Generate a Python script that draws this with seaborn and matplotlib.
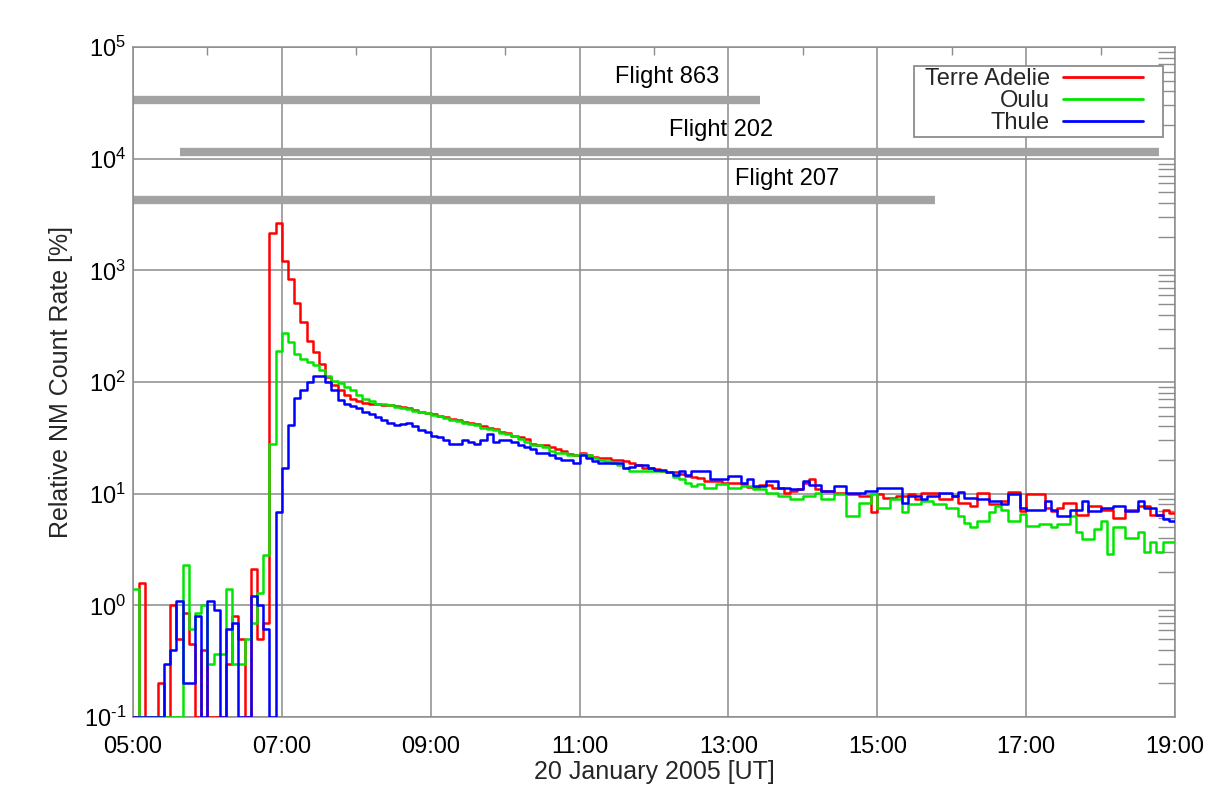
import numpy as np
import pandas as pd
import matplotlib
matplotlib.use("Agg")
import matplotlib.pyplot as plt
from matplotlib.lines import Line2D
from matplotlib.patches import Rectangle
from matplotlib.transforms import IdentityTransform
import matplotlib.ticker as mticker
import seaborn as sns

# ---------------- data ----------------
stations = ["Terre Adelie", "Oulu", "Thule"]
station_colors = ["#ff0000", "#00e600", "#0000ff"]

start_hour = 5.0          # 05:00 UT
bin_minutes = 5           # 5-minute bins

terre_adelie = [
    0.1, 1.6, 0.1, 0.1, 0.2, 0.1, 1.0, 0.5, 0.85, 0.45, 0.1, 0.4,
    0.1, 0.1, 0.1, 0.3, 0.8, 0.5, 0.1, 2.1, 0.5, 0.7, 2160, 2650,
    1210, 830, 515, 342, 235, 185, 146, 110, 94, 84, 76, 71,
    67, 65, 64, 63, 62, 62, 61, 60, 58, 56, 54, 53,
    52, 50, 49, 47, 46, 44, 43, 42, 40, 39, 38, 36,
    35, 33, 32, 31, 28, 27, 27, 26, 25, 24, 22.5, 22,
    23, 22, 21.5, 21, 21, 20, 20, 19.5, 19, 18, 17, 17,
    16.5, 16, 15.5, 15.5, 15, 14.3, 14, 13.9, 13, 13, 13, 12.5,
    12.5, 12.5, 12.1, 11.5, 11.3, 12, 12, 11.3, 11.3, 10.2, 10.5, 11,
    12.5, 13.4, 11, 10.6, 10.6, 10.2, 10.2, 9.9, 9.9, 9.5, 9.5, 6.8,
    9.9, 9.2, 9.2, 9.5, 9.5, 9.9, 8.9, 10.2, 10.2, 10.2, 8.9, 8.9,
    9.5, 8.3, 8.3, 7.8, 10.2, 10.2, 8.0, 8.0, 8.6, 10.4, 10.4, 7.0,
    9.9, 9.9, 9.9, 7.5, 7.0, 7.5, 8.3, 8.3, 6.5, 6.5, 7.8, 7.8,
    7.2, 7.2, 6.1, 6.1, 7.2, 7.2, 7.8, 7.8, 6.5, 6.5, 7.2, 6.7,
]
oulu = [
    1.4, 0.1, 0.1, 0.1, 0.1, 0.1, 0.1, 0.1, 2.3, 0.62, 0.85, 1.0,
    0.3, 0.37, 0.37, 1.4, 0.3, 0.3, 0.5, 0.7, 1.3, 2.8, 28, 190,
    273, 228, 178, 161, 150, 141, 127, 114, 103, 97, 91, 84,
    76, 71, 67, 64, 63, 62, 60, 59, 57, 55, 54, 53,
    51, 50, 48, 46, 45, 43, 42, 41, 39, 38, 37, 35,
    34, 33, 31, 29, 27, 27, 26, 24, 23, 23, 22, 22,
    22.5, 22, 21, 20, 19.5, 19, 18, 17, 16, 16, 16, 16,
    16, 16, 15.5, 14, 13.5, 12.5, 11.6, 12.1, 11.3, 11.3, 12.1, 12.1,
    11.3, 11.3, 11.7, 11.7, 11.0, 11.0, 10.2, 10.2, 9.5, 9.5, 8.9, 8.9,
    9.5, 9.5, 10.2, 8.9, 8.9, 9.9, 9.9, 6.3, 6.3, 8.3, 8.3, 9.9,
    7.5, 7.5, 8.9, 8.9, 6.8, 8.0, 8.0, 8.6, 8.6, 8.0, 8.0, 7.5,
    7.5, 6.3, 5.5, 5.0, 5.7, 5.7, 6.8, 7.8, 7.2, 5.7, 5.7, 6.6,
    5.1, 5.1, 5.3, 5.3, 5.0, 5.3, 5.3, 6.3, 4.5, 3.9, 3.9, 4.8,
    5.7, 2.9, 5.0, 5.0, 4.0, 4.0, 4.5, 3.0, 3.7, 3.0, 3.7, 3.7,
]
thule = [
    0.1, 0.1, 0.1, 0.1, 0.1, 0.3, 0.4, 1.1, 0.2, 0.2, 0.81, 0.1,
    1.1, 0.91, 0.1, 0.62, 0.7, 0.1, 0.1, 1.2, 1.0, 0.62, 0.1, 6.9,
    17, 41, 72, 84, 100, 113, 113, 100, 85, 69, 64, 61,
    58, 54, 52, 49, 46, 43, 41, 42, 43, 40, 37, 36,
    33, 32, 30, 28, 28, 30, 29, 28, 30, 34, 29, 30,
    30, 29, 27, 26, 25, 23, 23, 22, 21, 20, 20, 19,
    22, 21, 19.5, 19, 19, 19, 19, 17, 17.5, 18, 18, 17,
    16.4, 16.4, 15.5, 14.8, 15.8, 14.8, 16, 16, 16, 13.4, 13.4, 13.4,
    14.4, 14.4, 12.5, 13.4, 11.7, 11.7, 13, 13, 11.3, 11.3, 11, 11,
    13, 12, 12, 10.6, 10.6, 11.7, 11.7, 10.2, 10.2, 10.2, 10.6, 10.6,
    11.3, 11.3, 11.3, 11.3, 8.3, 9.5, 9.5, 8.9, 9.5, 9.5, 10.2, 10.2,
    9.5, 10.4, 9.2, 9.2, 8.9, 8.9, 8.6, 8.6, 8.0, 10.0, 10.0, 7.5,
    7.2, 7.2, 7.2, 8.6, 7.2, 6.3, 6.3, 7.2, 7.2, 8.6, 7.0, 7.0,
    7.5, 7.5, 7.8, 7.8, 7.0, 7.0, 8.6, 7.5, 7.5, 6.5, 5.9, 5.7,
]

flight_names = ["Flight 863", "Flight 202", "Flight 207"]
flight_start = [5.0, 5.63, 5.0]      # hours UT
flight_end = [13.43, 18.79, 15.78]   # hours UT
flight_level = [3.35e4, 1.15e4, 4.27e3]

xtick_hours = [5, 7, 9, 11, 13, 15, 17, 19]
xtick_labels = ["05:00", "07:00", "09:00", "11:00", "13:00", "15:00", "17:00", "19:00"]
ytick_values = [1e-1, 1e0, 1e1, 1e2, 1e3, 1e4, 1e5]
ytick_labels = [r"$10^{\text{-}1}$", r"$10^{0}$", r"$10^{1}$", r"$10^{2}$",
                r"$10^{3}$", r"$10^{4}$", r"$10^{5}$"]

# ---------------- build table ----------------
frames = []
for name, vals in zip(stations, [terre_adelie, oulu, thule]):
    n = len(vals)
    edges = start_hour + np.arange(n + 1) * bin_minutes / 60.0
    v = np.append(np.asarray(vals, dtype=float), vals[-1])
    frames.append(pd.DataFrame({"hour": edges, "value": v, "station": name}))
df = pd.concat(frames, ignore_index=True)

# ---------------- style ----------------
sns.set_theme(style="white")
plt.rcParams["font.family"] = ["Liberation Sans", "DejaVu Sans"]
plt.rcParams["mathtext.fontset"] = "custom"
plt.rcParams["mathtext.rm"] = "Liberation Sans"
plt.rcParams["mathtext.it"] = "Liberation Sans"
FS = 17
GRAY = "#8c8c8c"

fig = plt.figure(figsize=(12.13, 7.96), dpi=100)
ax = fig.add_axes([133 / 1213, 1 - 717 / 796, (1175 - 133) / 1213, (717 - 47) / 796])

# flight bars (behind data)
for s, e, lev in zip(flight_start, flight_end, flight_level):
    ax.hlines(lev, s, e, color="#a3a3a3", lw=6, zorder=1.5)

sns.lineplot(data=df, x="hour", y="value", hue="station", hue_order=stations,
             palette=station_colors, drawstyle="steps-post", linewidth=1.8,
             estimator=None, legend=False, ax=ax, zorder=3)

ax.set_yscale("log")
ax.set_ylim(0.1, 1e5)
ax.set_xlim(5, 19)

# flight labels
label_pos = [(12.17, 5.4e4), (12.90, 1.8e4), (13.79, 6.6e3)]
for name, (lx, ly) in zip(flight_names, label_pos):
    ax.text(lx, ly, name, ha="center", va="center", fontsize=FS, color="black", zorder=4)

# ticks
ax.set_xticks(xtick_hours)
ax.set_xticklabels(xtick_labels)
ax.xaxis.set_minor_locator(mticker.MultipleLocator(1))
ax.xaxis.set_minor_formatter(mticker.NullFormatter())
ax.set_yticks(ytick_values)
ax.set_yticklabels(ytick_labels)
ax.yaxis.set_minor_locator(mticker.LogLocator(base=10, subs=np.arange(2, 10), numticks=20))
ax.yaxis.set_minor_formatter(mticker.NullFormatter())
ax.tick_params(axis="both", which="both", direction="in", top=True, right=True,
               color=GRAY, labelsize=FS, labelcolor="black")
ax.tick_params(axis="x", which="major", length=0, pad=14)
ax.tick_params(axis="x", which="minor", length=6, width=1)
ax.tick_params(axis="y", which="major", length=0, pad=5)
ax.tick_params(axis="y", which="minor", length=12, width=1)
ax.xaxis.get_offset_text().set_visible(False)
ax.yaxis.get_offset_text().set_visible(False)

ax.grid(True, which="major", axis="both", color=GRAY, lw=1.1)
for sp in ax.spines.values():
    sp.set_color(GRAY)
    sp.set_linewidth(1.1)

ax.set_xlabel("20 January 2005 [UT]", fontsize=18)
ax.set_ylabel("Relative NM Count Rate [%]", fontsize=18)
ax.xaxis.set_label_coords(0.5, -0.064)
ax.yaxis.set_label_coords(-0.058, 0.5)

# legend: entries right-aligned, frame drawn with extra horizontal room
handles = [Line2D([], [], color=c, lw=2) for c in station_colors]
leg = ax.legend(handles, stations, loc="upper right", bbox_to_anchor=(0.9715, 0.9716),
                borderaxespad=0, markerfirst=False, frameon=False,
                handlelength=3.4, handletextpad=0.55,
                labelspacing=0.0, borderpad=0.1, fontsize=FS)
leg.set_zorder(6)

fig.canvas.draw()
bb = leg.get_window_extent(fig.canvas.get_renderer())
frame = Rectangle((bb.x0 - 8, bb.y0), bb.width + 8 + 18, bb.height,
                  transform=IdentityTransform(), facecolor="white",
                  edgecolor=GRAY, lw=1.3, zorder=5.5)
ax.add_artist(frame)

fig.savefig("out.png", dpi=100)
